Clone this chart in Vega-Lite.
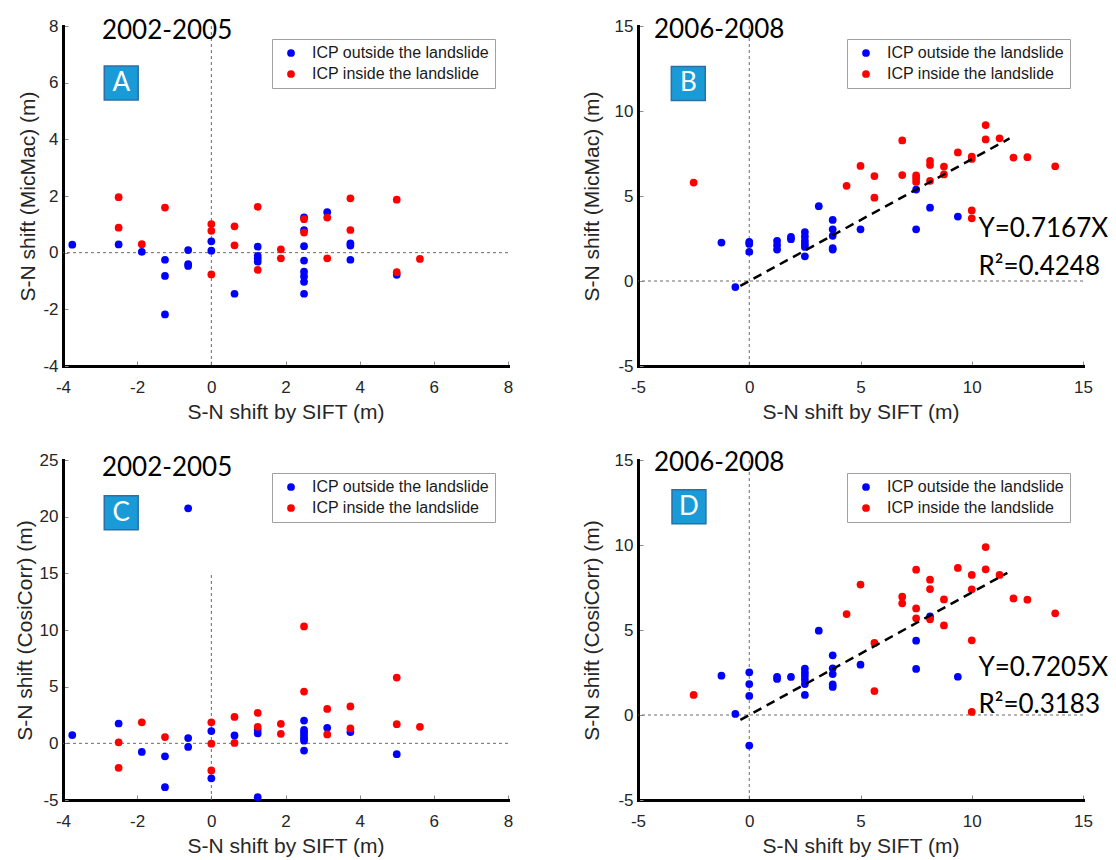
{
  "$schema": "https://vega.github.io/schema/vega-lite/v6.json",
  "background": "white",
  "padding": {"left": 14, "top": 17, "right": 2, "bottom": 2},
  "bounds": "flush",
  "columns": 2,
  "spacing": {"row": 94, "column": 130},
  "config": {
    "view": {"stroke": null},
    "font": "Liberation Sans",
    "axis": {
      "grid": false,
      "domainColor": "#000000",
      "domainWidth": 3,
      "domainCap": "square",
      "tickColor": "#8c8c8c",
      "tickSize": -5,
      "tickWidth": 1,
      "labelFlush": false,
      "labelExpr": "replace(datum.label, '−', '-')",
      "labelFont": "Liberation Sans",
      "labelFontSize": 17,
      "labelColor": "#262626",
      "labelPadding": 10,
      "titleFont": "Liberation Sans",
      "titleFontSize": 21,
      "titleFontWeight": "normal",
      "titleColor": "#262626"
    },
    "axisX": {"labelPadding": 18, "titlePadding": 6},
    "legend": {
      "orient": "top-right",
      "offset": 13,
      "padding": 6,
      "strokeColor": "#a0a0a0",
      "strokeWidth": 1,
      "fillColor": "white",
      "labelFont": "Liberation Sans",
      "labelFontSize": 16,
      "labelColor": "#1a1a1a",
      "labelLimit": 0,
      "symbolType": "circle",
      "symbolSize": 60,
      "symbolStrokeWidth": 0,
      "rowPadding": 5,
      "labelOffset": 13,
      "symbolOffset": 5
    }
  },
  "resolve": {"scale": {"color": "independent"}, "legend": {"color": "independent"}},
  "datasets": {
    "A": [
      {"sift": -3.75, "shift": 0.28, "icp": "outside"},
      {"sift": -2.5, "shift": 0.29, "icp": "outside"},
      {"sift": -1.875, "shift": 0.03, "icp": "outside"},
      {"sift": -1.25, "shift": -0.25, "icp": "outside"},
      {"sift": -1.25, "shift": -0.82, "icp": "outside"},
      {"sift": -1.25, "shift": -2.18, "icp": "outside"},
      {"sift": -0.625, "shift": 0.09, "icp": "outside"},
      {"sift": -0.625, "shift": -0.4, "icp": "outside"},
      {"sift": -0.625, "shift": -0.47, "icp": "outside"},
      {"sift": 0, "shift": 0.4, "icp": "outside"},
      {"sift": 0, "shift": 0.07, "icp": "outside"},
      {"sift": 0.625, "shift": -1.45, "icp": "outside"},
      {"sift": 1.25, "shift": 0.21, "icp": "outside"},
      {"sift": 1.25, "shift": -0.11, "icp": "outside"},
      {"sift": 1.25, "shift": -0.21, "icp": "outside"},
      {"sift": 1.25, "shift": -0.32, "icp": "outside"},
      {"sift": 2.5, "shift": 1.25, "icp": "outside"},
      {"sift": 2.5, "shift": 0.8, "icp": "outside"},
      {"sift": 2.5, "shift": 0.23, "icp": "outside"},
      {"sift": 2.5, "shift": -0.28, "icp": "outside"},
      {"sift": 2.5, "shift": -0.67, "icp": "outside"},
      {"sift": 2.5, "shift": -0.84, "icp": "outside"},
      {"sift": 2.5, "shift": -1.03, "icp": "outside"},
      {"sift": 2.5, "shift": -1.45, "icp": "outside"},
      {"sift": 3.125, "shift": 1.43, "icp": "outside"},
      {"sift": 3.75, "shift": 0.33, "icp": "outside"},
      {"sift": 3.75, "shift": 0.25, "icp": "outside"},
      {"sift": 3.75, "shift": -0.25, "icp": "outside"},
      {"sift": 5.0, "shift": -0.78, "icp": "outside"},
      {"sift": -2.5, "shift": 1.96, "icp": "inside"},
      {"sift": -2.5, "shift": 0.88, "icp": "inside"},
      {"sift": -1.875, "shift": 0.3, "icp": "inside"},
      {"sift": -1.25, "shift": 1.59, "icp": "inside"},
      {"sift": 0, "shift": 1.01, "icp": "inside"},
      {"sift": 0, "shift": 0.77, "icp": "inside"},
      {"sift": 0, "shift": -0.77, "icp": "inside"},
      {"sift": 0.625, "shift": 0.93, "icp": "inside"},
      {"sift": 0.625, "shift": 0.26, "icp": "inside"},
      {"sift": 1.25, "shift": 1.62, "icp": "inside"},
      {"sift": 1.25, "shift": -0.61, "icp": "inside"},
      {"sift": 1.875, "shift": 0.12, "icp": "inside"},
      {"sift": 1.875, "shift": -0.2, "icp": "inside"},
      {"sift": 2.5, "shift": 1.18, "icp": "inside"},
      {"sift": 2.5, "shift": 0.71, "icp": "inside"},
      {"sift": 3.125, "shift": 1.24, "icp": "inside"},
      {"sift": 3.125, "shift": -0.2, "icp": "inside"},
      {"sift": 3.75, "shift": 1.92, "icp": "inside"},
      {"sift": 3.75, "shift": 0.8, "icp": "inside"},
      {"sift": 5.0, "shift": 1.87, "icp": "inside"},
      {"sift": 5.0, "shift": -0.69, "icp": "inside"},
      {"sift": 5.625, "shift": -0.22, "icp": "inside"}
    ],
    "B": [
      {"sift": -1.25, "shift": 2.26, "icp": "outside"},
      {"sift": -0.625, "shift": -0.36, "icp": "outside"},
      {"sift": 0, "shift": 2.3, "icp": "outside"},
      {"sift": 0, "shift": 2.18, "icp": "outside"},
      {"sift": 0, "shift": 1.71, "icp": "outside"},
      {"sift": 1.25, "shift": 2.36, "icp": "outside"},
      {"sift": 1.25, "shift": 2.1, "icp": "outside"},
      {"sift": 1.25, "shift": 1.85, "icp": "outside"},
      {"sift": 1.875, "shift": 2.6, "icp": "outside"},
      {"sift": 1.875, "shift": 2.46, "icp": "outside"},
      {"sift": 2.5, "shift": 2.88, "icp": "outside"},
      {"sift": 2.5, "shift": 2.62, "icp": "outside"},
      {"sift": 2.5, "shift": 2.36, "icp": "outside"},
      {"sift": 2.5, "shift": 2.16, "icp": "outside"},
      {"sift": 2.5, "shift": 2.0, "icp": "outside"},
      {"sift": 2.5, "shift": 1.45, "icp": "outside"},
      {"sift": 3.125, "shift": 4.4, "icp": "outside"},
      {"sift": 3.75, "shift": 3.59, "icp": "outside"},
      {"sift": 3.75, "shift": 3.04, "icp": "outside"},
      {"sift": 3.75, "shift": 2.66, "icp": "outside"},
      {"sift": 3.75, "shift": 1.94, "icp": "outside"},
      {"sift": 3.75, "shift": 1.85, "icp": "outside"},
      {"sift": 5.0, "shift": 3.04, "icp": "outside"},
      {"sift": 7.5, "shift": 5.38, "icp": "outside"},
      {"sift": 7.5, "shift": 3.04, "icp": "outside"},
      {"sift": 8.125, "shift": 4.31, "icp": "outside"},
      {"sift": 9.375, "shift": 3.79, "icp": "outside"},
      {"sift": -2.5, "shift": 5.79, "icp": "inside"},
      {"sift": 4.375, "shift": 5.6, "icp": "inside"},
      {"sift": 5.0, "shift": 6.77, "icp": "inside"},
      {"sift": 5.625, "shift": 6.17, "icp": "inside"},
      {"sift": 5.625, "shift": 4.9, "icp": "inside"},
      {"sift": 6.875, "shift": 8.27, "icp": "inside"},
      {"sift": 6.875, "shift": 6.23, "icp": "inside"},
      {"sift": 7.5, "shift": 6.21, "icp": "inside"},
      {"sift": 7.5, "shift": 6.03, "icp": "inside"},
      {"sift": 7.5, "shift": 5.83, "icp": "inside"},
      {"sift": 8.125, "shift": 7.06, "icp": "inside"},
      {"sift": 8.125, "shift": 6.83, "icp": "inside"},
      {"sift": 8.125, "shift": 5.89, "icp": "inside"},
      {"sift": 8.75, "shift": 6.73, "icp": "inside"},
      {"sift": 8.75, "shift": 6.27, "icp": "inside"},
      {"sift": 9.375, "shift": 7.56, "icp": "inside"},
      {"sift": 10.0, "shift": 7.32, "icp": "inside"},
      {"sift": 10.0, "shift": 7.18, "icp": "inside"},
      {"sift": 10.0, "shift": 4.15, "icp": "inside"},
      {"sift": 10.0, "shift": 3.69, "icp": "inside"},
      {"sift": 10.625, "shift": 9.17, "icp": "inside"},
      {"sift": 10.625, "shift": 8.33, "icp": "inside"},
      {"sift": 11.25, "shift": 8.39, "icp": "inside"},
      {"sift": 11.875, "shift": 7.26, "icp": "inside"},
      {"sift": 12.5, "shift": 7.28, "icp": "inside"},
      {"sift": 13.75, "shift": 6.75, "icp": "inside"}
    ],
    "C": [
      {"sift": -3.75, "shift": 0.73, "icp": "outside"},
      {"sift": -2.5, "shift": 1.75, "icp": "outside"},
      {"sift": -1.875, "shift": -0.76, "icp": "outside"},
      {"sift": -1.25, "shift": -1.14, "icp": "outside"},
      {"sift": -1.25, "shift": -3.87, "icp": "outside"},
      {"sift": -0.625, "shift": 20.74, "icp": "outside"},
      {"sift": -0.625, "shift": 0.47, "icp": "outside"},
      {"sift": -0.625, "shift": -0.32, "icp": "outside"},
      {"sift": 0, "shift": 1.08, "icp": "outside"},
      {"sift": 0, "shift": -3.09, "icp": "outside"},
      {"sift": 0.625, "shift": 0.7, "icp": "outside"},
      {"sift": 1.25, "shift": 1.19, "icp": "outside"},
      {"sift": 1.25, "shift": 0.87, "icp": "outside"},
      {"sift": 1.25, "shift": -4.75, "icp": "outside"},
      {"sift": 2.5, "shift": 2.01, "icp": "outside"},
      {"sift": 2.5, "shift": 1.19, "icp": "outside"},
      {"sift": 2.5, "shift": 0.96, "icp": "outside"},
      {"sift": 2.5, "shift": 0.7, "icp": "outside"},
      {"sift": 2.5, "shift": 0.44, "icp": "outside"},
      {"sift": 2.5, "shift": 0.23, "icp": "outside"},
      {"sift": 2.5, "shift": -0.64, "icp": "outside"},
      {"sift": 3.125, "shift": 1.37, "icp": "outside"},
      {"sift": 3.75, "shift": 0.99, "icp": "outside"},
      {"sift": 5.0, "shift": -0.96, "icp": "outside"},
      {"sift": -2.5, "shift": 0.09, "icp": "inside"},
      {"sift": -2.5, "shift": -2.16, "icp": "inside"},
      {"sift": -1.875, "shift": 1.86, "icp": "inside"},
      {"sift": -1.25, "shift": 0.55, "icp": "inside"},
      {"sift": 0, "shift": 1.86, "icp": "inside"},
      {"sift": 0, "shift": -0.03, "icp": "inside"},
      {"sift": 0, "shift": -2.39, "icp": "inside"},
      {"sift": 0.625, "shift": 2.33, "icp": "inside"},
      {"sift": 0.625, "shift": 0.03, "icp": "inside"},
      {"sift": 1.25, "shift": 2.68, "icp": "inside"},
      {"sift": 1.25, "shift": 1.46, "icp": "inside"},
      {"sift": 1.875, "shift": 1.72, "icp": "inside"},
      {"sift": 1.875, "shift": 0.84, "icp": "inside"},
      {"sift": 2.5, "shift": 10.31, "icp": "inside"},
      {"sift": 2.5, "shift": 4.57, "icp": "inside"},
      {"sift": 3.125, "shift": 3.03, "icp": "inside"},
      {"sift": 3.125, "shift": 0.79, "icp": "inside"},
      {"sift": 3.75, "shift": 3.26, "icp": "inside"},
      {"sift": 3.75, "shift": 1.31, "icp": "inside"},
      {"sift": 5.0, "shift": 5.8, "icp": "inside"},
      {"sift": 5.0, "shift": 1.69, "icp": "inside"},
      {"sift": 5.625, "shift": 1.46, "icp": "inside"}
    ],
    "D": [
      {"sift": -1.25, "shift": 2.31, "icp": "outside"},
      {"sift": -0.625, "shift": 0.06, "icp": "outside"},
      {"sift": 0, "shift": 2.51, "icp": "outside"},
      {"sift": 0, "shift": 1.82, "icp": "outside"},
      {"sift": 0, "shift": 1.12, "icp": "outside"},
      {"sift": 0, "shift": -1.8, "icp": "outside"},
      {"sift": 1.25, "shift": 2.24, "icp": "outside"},
      {"sift": 1.25, "shift": 2.12, "icp": "outside"},
      {"sift": 1.875, "shift": 2.24, "icp": "outside"},
      {"sift": 2.5, "shift": 2.73, "icp": "outside"},
      {"sift": 2.5, "shift": 2.51, "icp": "outside"},
      {"sift": 2.5, "shift": 2.31, "icp": "outside"},
      {"sift": 2.5, "shift": 2.08, "icp": "outside"},
      {"sift": 2.5, "shift": 1.82, "icp": "outside"},
      {"sift": 2.5, "shift": 1.18, "icp": "outside"},
      {"sift": 3.125, "shift": 4.96, "icp": "outside"},
      {"sift": 3.75, "shift": 3.51, "icp": "outside"},
      {"sift": 3.75, "shift": 2.75, "icp": "outside"},
      {"sift": 3.75, "shift": 2.41, "icp": "outside"},
      {"sift": 3.75, "shift": 1.8, "icp": "outside"},
      {"sift": 3.75, "shift": 1.65, "icp": "outside"},
      {"sift": 5.0, "shift": 2.96, "icp": "outside"},
      {"sift": 7.5, "shift": 4.37, "icp": "outside"},
      {"sift": 7.5, "shift": 2.71, "icp": "outside"},
      {"sift": 8.125, "shift": 5.8, "icp": "outside"},
      {"sift": 9.375, "shift": 2.25, "icp": "outside"},
      {"sift": -2.5, "shift": 1.18, "icp": "inside"},
      {"sift": 4.375, "shift": 5.94, "icp": "inside"},
      {"sift": 5.0, "shift": 7.67, "icp": "inside"},
      {"sift": 5.625, "shift": 4.24, "icp": "inside"},
      {"sift": 5.625, "shift": 1.41, "icp": "inside"},
      {"sift": 6.875, "shift": 6.96, "icp": "inside"},
      {"sift": 6.875, "shift": 6.57, "icp": "inside"},
      {"sift": 7.5, "shift": 8.55, "icp": "inside"},
      {"sift": 7.5, "shift": 6.27, "icp": "inside"},
      {"sift": 7.5, "shift": 5.69, "icp": "inside"},
      {"sift": 8.125, "shift": 7.96, "icp": "inside"},
      {"sift": 8.125, "shift": 7.41, "icp": "inside"},
      {"sift": 8.125, "shift": 5.63, "icp": "inside"},
      {"sift": 8.75, "shift": 6.8, "icp": "inside"},
      {"sift": 8.75, "shift": 5.27, "icp": "inside"},
      {"sift": 9.375, "shift": 8.65, "icp": "inside"},
      {"sift": 10.0, "shift": 8.24, "icp": "inside"},
      {"sift": 10.0, "shift": 7.39, "icp": "inside"},
      {"sift": 10.0, "shift": 4.39, "icp": "inside"},
      {"sift": 10.0, "shift": 0.18, "icp": "inside"},
      {"sift": 10.625, "shift": 9.88, "icp": "inside"},
      {"sift": 10.625, "shift": 8.57, "icp": "inside"},
      {"sift": 11.25, "shift": 8.24, "icp": "inside"},
      {"sift": 11.875, "shift": 6.86, "icp": "inside"},
      {"sift": 12.5, "shift": 6.78, "icp": "inside"},
      {"sift": 13.75, "shift": 5.98, "icp": "inside"}
    ]
  },
  "concat": [
    {
      "width": 445,
      "height": 340,
      "layer": [
        {"data": {"values": [{}]}, "mark": {"type": "rule", "color": "#6a6a6a", "strokeWidth": 1, "strokeDash": [3, 3]}, "encoding": {"y": {"datum": 0}}},
        {"data": {"values": [{}]}, "mark": {"type": "rule", "color": "#6a6a6a", "strokeWidth": 1, "strokeDash": [3, 3]}, "encoding": {"x": {"datum": 0}}},
        {
          "data": {"name": "A"},
          "mark": {"type": "circle", "size": 60, "opacity": 1},
          "encoding": {
            "x": {"field": "sift", "type": "quantitative", "scale": {"domain": [-4, 8], "nice": false, "zero": false}, "axis": {"values": [-4, -2, 0, 2, 4, 6, 8], "title": "S-N shift by SIFT (m)"}},
            "y": {"field": "shift", "type": "quantitative", "scale": {"domain": [-4, 8], "nice": false, "zero": false}, "axis": {"values": [-4, -2, 0, 2, 4, 6, 8], "title": "S-N shift (MicMac) (m)"}},
            "color": {"field": "icp", "type": "nominal", "scale": {"domain": ["outside", "inside"], "range": ["#0000ff", "#ff0000"]}, "legend": {"title": null, "labelExpr": "'ICP ' + datum.label + ' the landslide'"}}
          }
        },
        {"data": {"values": [{}]}, "mark": {"type": "text", "font": "Lato", "fontSize": 26, "align": "left", "baseline": "middle", "color": "#000000"}, "encoding": {"x": {"datum": -2.95}, "y": {"datum": 7.82}, "text": {"value": "2002-2005"}}},
        {"data": {"values": [{}]}, "mark": {"type": "point", "shape": "square", "filled": true, "size": 1150, "fill": "#1a9bd7", "stroke": "#2b6fa6", "strokeWidth": 1.5, "opacity": 1}, "encoding": {"x": {"datum": -2.43}, "y": {"datum": 5.99}}},
        {"data": {"values": [{}]}, "mark": {"type": "text", "font": "Lato", "fontSize": 26, "align": "center", "baseline": "middle", "color": "#ffffff"}, "encoding": {"x": {"datum": -2.43}, "y": {"datum": 5.99}, "text": {"value": "A"}}}
      ]
    },
    {
      "width": 445,
      "height": 340,
      "layer": [
        {"data": {"values": [{}]}, "mark": {"type": "rule", "color": "#6a6a6a", "strokeWidth": 1, "strokeDash": [3, 3]}, "encoding": {"y": {"datum": 0}}},
        {"data": {"values": [{}]}, "mark": {"type": "rule", "color": "#6a6a6a", "strokeWidth": 1, "strokeDash": [3, 3]}, "encoding": {"x": {"datum": 0}}},
        {
          "data": {"name": "B"},
          "mark": {"type": "circle", "size": 60, "opacity": 1},
          "encoding": {
            "x": {"field": "sift", "type": "quantitative", "scale": {"domain": [-5, 15], "nice": false, "zero": false}, "axis": {"values": [-5, 0, 5, 10, 15], "title": "S-N shift by SIFT (m)"}},
            "y": {"field": "shift", "type": "quantitative", "scale": {"domain": [-5, 15], "nice": false, "zero": false}, "axis": {"values": [-5, 0, 5, 10, 15], "title": "S-N shift (MicMac) (m)", "titlePadding": 12}},
            "color": {"field": "icp", "type": "nominal", "scale": {"domain": ["outside", "inside"], "range": ["#0000ff", "#ff0000"]}, "legend": {"title": null, "labelExpr": "'ICP ' + datum.label + ' the landslide'"}}
          }
        },
        {"data": {"values": [{}]}, "mark": {"type": "rule", "color": "#000000", "strokeWidth": 2.5, "strokeDash": [9, 6]}, "encoding": {"x": {"datum": -0.4}, "y": {"datum": -0.2867}, "x2": {"datum": 11.7}, "y2": {"datum": 8.3854}}},
        {"data": {"values": [{}]}, "mark": {"type": "text", "font": "Lato", "fontSize": 26, "align": "left", "baseline": "middle", "color": "#000000"}, "encoding": {"x": {"datum": 10.3}, "y": {"datum": 3.08}, "text": {"value": "Y=0.7167X"}}},
        {"data": {"values": [{}]}, "mark": {"type": "text", "font": "Lato", "fontSize": 26, "align": "left", "baseline": "middle", "color": "#000000"}, "encoding": {"x": {"datum": 10.3}, "y": {"datum": 0.81}, "text": {"value": "R²=0.4248"}}},
        {"data": {"values": [{}]}, "mark": {"type": "text", "font": "Lato", "fontSize": 26, "align": "left", "baseline": "middle", "color": "#000000"}, "encoding": {"x": {"datum": -4.28}, "y": {"datum": 14.74}, "text": {"value": "2006-2008"}}},
        {"data": {"values": [{}]}, "mark": {"type": "point", "shape": "square", "filled": true, "size": 1150, "fill": "#1a9bd7", "stroke": "#2b6fa6", "strokeWidth": 1.5, "opacity": 1}, "encoding": {"x": {"datum": -2.74}, "y": {"datum": 11.62}}},
        {"data": {"values": [{}]}, "mark": {"type": "text", "font": "Lato", "fontSize": 26, "align": "center", "baseline": "middle", "color": "#ffffff"}, "encoding": {"x": {"datum": -2.74}, "y": {"datum": 11.62}, "text": {"value": "B"}}}
      ]
    },
    {
      "width": 445,
      "height": 340,
      "layer": [
        {"data": {"values": [{}]}, "mark": {"type": "rule", "color": "#6a6a6a", "strokeWidth": 1, "strokeDash": [3, 3]}, "encoding": {"y": {"datum": 0}}},
        {"data": {"values": [{}]}, "mark": {"type": "rule", "color": "#6a6a6a", "strokeWidth": 1, "strokeDash": [3, 3]}, "encoding": {"x": {"datum": 0}, "y": {"datum": -5}, "y2": {"datum": 15}}},
        {
          "data": {"name": "C"},
          "mark": {"type": "circle", "size": 60, "opacity": 1},
          "encoding": {
            "x": {"field": "sift", "type": "quantitative", "scale": {"domain": [-4, 8], "nice": false, "zero": false}, "axis": {"values": [-4, -2, 0, 2, 4, 6, 8], "title": "S-N shift by SIFT (m)"}},
            "y": {"field": "shift", "type": "quantitative", "scale": {"domain": [-5, 25], "nice": false, "zero": false}, "axis": {"values": [-5, 0, 5, 10, 15, 20, 25], "title": "S-N shift (CosiCorr) (m)"}},
            "color": {"field": "icp", "type": "nominal", "scale": {"domain": ["outside", "inside"], "range": ["#0000ff", "#ff0000"]}, "legend": {"title": null, "labelExpr": "'ICP ' + datum.label + ' the landslide'"}}
          }
        },
        {"data": {"values": [{}]}, "mark": {"type": "text", "font": "Lato", "fontSize": 26, "align": "left", "baseline": "middle", "color": "#000000"}, "encoding": {"x": {"datum": -2.95}, "y": {"datum": 24.33}, "text": {"value": "2002-2005"}}},
        {"data": {"values": [{}]}, "mark": {"type": "point", "shape": "square", "filled": true, "size": 1150, "fill": "#1a9bd7", "stroke": "#2b6fa6", "strokeWidth": 1.5, "opacity": 1}, "encoding": {"x": {"datum": -2.43}, "y": {"datum": 20.34}}},
        {"data": {"values": [{}]}, "mark": {"type": "text", "font": "Lato", "fontSize": 26, "align": "center", "baseline": "middle", "color": "#ffffff"}, "encoding": {"x": {"datum": -2.43}, "y": {"datum": 20.34}, "text": {"value": "C"}}}
      ]
    },
    {
      "width": 445,
      "height": 340,
      "layer": [
        {"data": {"values": [{}]}, "mark": {"type": "rule", "color": "#6a6a6a", "strokeWidth": 1, "strokeDash": [3, 3]}, "encoding": {"y": {"datum": 0}}},
        {"data": {"values": [{}]}, "mark": {"type": "rule", "color": "#6a6a6a", "strokeWidth": 1, "strokeDash": [3, 3]}, "encoding": {"x": {"datum": 0}}},
        {
          "data": {"name": "D"},
          "mark": {"type": "circle", "size": 60, "opacity": 1},
          "encoding": {
            "x": {"field": "sift", "type": "quantitative", "scale": {"domain": [-5, 15], "nice": false, "zero": false}, "axis": {"values": [-5, 0, 5, 10, 15], "title": "S-N shift by SIFT (m)"}},
            "y": {"field": "shift", "type": "quantitative", "scale": {"domain": [-5, 15], "nice": false, "zero": false}, "axis": {"values": [-5, 0, 5, 10, 15], "title": "S-N shift (CosiCorr) (m)", "titlePadding": 12}},
            "color": {"field": "icp", "type": "nominal", "scale": {"domain": ["outside", "inside"], "range": ["#0000ff", "#ff0000"]}, "legend": {"title": null, "labelExpr": "'ICP ' + datum.label + ' the landslide'"}}
          }
        },
        {"data": {"values": [{}]}, "mark": {"type": "rule", "color": "#000000", "strokeWidth": 2.5, "strokeDash": [9, 6]}, "encoding": {"x": {"datum": -0.4}, "y": {"datum": -0.2882}, "x2": {"datum": 11.6}, "y2": {"datum": 8.3578}}},
        {"data": {"values": [{}]}, "mark": {"type": "text", "font": "Lato", "fontSize": 26, "align": "left", "baseline": "middle", "color": "#000000"}, "encoding": {"x": {"datum": 10.3}, "y": {"datum": 2.75}, "text": {"value": "Y=0.7205X"}}},
        {"data": {"values": [{}]}, "mark": {"type": "text", "font": "Lato", "fontSize": 26, "align": "left", "baseline": "middle", "color": "#000000"}, "encoding": {"x": {"datum": 10.3}, "y": {"datum": 0.59}, "text": {"value": "R²=0.3183"}}},
        {"data": {"values": [{}]}, "mark": {"type": "text", "font": "Lato", "fontSize": 26, "align": "left", "baseline": "middle", "color": "#000000"}, "encoding": {"x": {"datum": -4.28}, "y": {"datum": 14.8}, "text": {"value": "2006-2008"}}},
        {"data": {"values": [{}]}, "mark": {"type": "point", "shape": "square", "filled": true, "size": 1150, "fill": "#1a9bd7", "stroke": "#2b6fa6", "strokeWidth": 1.5, "opacity": 1}, "encoding": {"x": {"datum": -2.71}, "y": {"datum": 12.25}}},
        {"data": {"values": [{}]}, "mark": {"type": "text", "font": "Lato", "fontSize": 26, "align": "center", "baseline": "middle", "color": "#ffffff"}, "encoding": {"x": {"datum": -2.71}, "y": {"datum": 12.25}, "text": {"value": "D"}}}
      ]
    }
  ]
}
